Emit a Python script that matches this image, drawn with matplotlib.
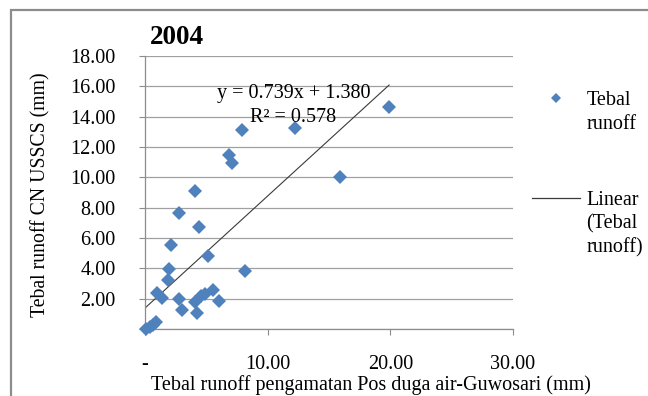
import matplotlib
matplotlib.use("Agg")
import matplotlib.pyplot as plt
from matplotlib.lines import Line2D
from matplotlib.patches import Rectangle
import numpy as np

plt.rcParams['font.family'] = ['Liberation Serif', 'DejaVu Serif']

# ---- data ----
obs_runoff = [19.9, 12.25, 7.88, 6.87, 7.06, 15.86, 4.06, 2.77, 4.41, 2.15, 5.15, 1.95,
              8.16, 1.87, 0.95, 1.4, 2.77, 3.05, 4.1, 4.25, 4.6, 4.9, 5.56, 6.05,
              0.1, 0.37, 0.64, 0.86]
cn_runoff = [14.65, 13.28, 13.15, 11.45, 10.95, 10.02, 9.07, 7.64, 6.72, 5.57, 4.84, 3.96,
             3.81, 3.23, 2.4, 2.05, 1.95, 1.22, 1.75, 1.04, 2.15, 2.3, 2.55, 1.87,
             0.0, 0.12, 0.28, 0.43]
slope = 0.739
intercept = 1.380
r2 = 0.578
x_ticks = [0, 10, 20, 30]
x_ticklabels = ["-", "10.00", "20.00", "30.00"]
y_ticks = [0, 2, 4, 6, 8, 10, 12, 14, 16, 18]
y_ticklabels = ["", "2.00", "4.00", "6.00", "8.00", "10.00", "12.00", "14.00", "16.00", "18.00"]
title = "2004"
xlabel = "Tebal runoff pengamatan Pos duga air-Guwosari (mm)"
ylabel = "Tebal runoff CN USSCS (mm)"
series_label = "Tebal runoff"
trend_label = "Linear (Tebal runoff)"

W, H = 648, 396
fig = plt.figure(figsize=(W / 100, H / 100), dpi=100)
ax = fig.add_axes([145 / W, 1 - 329 / H, (513 - 145) / W, (329 - 56) / H])

fs = 14.5
marker_color = "#4F81BD"
grid_color = "#A0A0A0"
spine_color = "#8C8C8C"

ax.plot(obs_runoff, cn_runoff, linestyle="none", marker="D", ms=6.9,
        mfc=marker_color, mec=marker_color, mew=0, zorder=3, clip_on=False)

xt = np.array([0, max(obs_runoff)])
ax.plot(xt, slope * xt + intercept, color="#3A3A3A", lw=0.8, zorder=2)

ax.set_xlim(0, 30)
ax.set_ylim(0, 18)
ax.set_xticks(x_ticks)
ax.set_xticklabels(x_ticklabels, fontsize=fs)
ax.set_yticks(y_ticks)
ax.set_yticklabels(y_ticklabels, fontsize=fs)
ax.tick_params(axis="x", direction="out", length=4, width=0.8, color=spine_color, pad=15)
ax.tick_params(axis="y", direction="out", length=4, width=0.8, color=spine_color, pad=17)

ax.yaxis.grid(True, color=grid_color, lw=0.9)
ax.set_axisbelow(True)
for s in ["top", "right"]:
    ax.spines[s].set_visible(False)
for s in ["left", "bottom"]:
    ax.spines[s].set_color(spine_color)
    ax.spines[s].set_linewidth(0.9)

ax.set_xlabel(xlabel, fontsize=fs, va="center", ha="center")
ax.xaxis.set_label_coords((371 - 145) / 368, -(385 - 329) / 273)
ax.set_ylabel(ylabel, fontsize=fs - 0.3, va="center", ha="center")
ax.yaxis.set_label_coords((41 - 145) / 368, (329 - 195) / 273)

ax.text((150 - 145) / 368, 1 + (56 - 38) / 273, title, transform=ax.transAxes,
        fontsize=19.5, fontweight="bold", ha="left", va="center")

ax.text(12.1, 15.55, f"y = {slope:.3f}x + {intercept:.3f}", fontsize=fs,
        ha="center", va="center")
ax.text(12.1, 13.97, f"R² = {r2:.3f}", fontsize=fs, ha="center", va="center")

# legend: split multi-line labels into rows so the handle sits on the first line
blank = Line2D([], [], linestyle="none", marker=None)
h_pts = Line2D([], [], linestyle="none", marker="D", ms=5, mfc=marker_color, mec=marker_color, mew=0)
h_line = Line2D([], [], color="#3A3A3A", lw=0.9)
s_words = series_label.split(" ")
t_words = trend_label.split(" ")
t_rows = [t_words[0], t_words[1], t_words[2]]

common = dict(frameon=False, fontsize=fs, handlelength=2.4, handletextpad=0.3,
              labelspacing=0.22, borderpad=0, borderaxespad=0,
              bbox_transform=fig.transFigure, loc="upper left")
leg1 = ax.legend([h_pts, blank], s_words, bbox_to_anchor=(532 / W, 1 - 91 / H), **common)
ax.add_artist(leg1)
leg2 = ax.legend([h_line, blank, blank], t_rows, bbox_to_anchor=(532 / W, 1 - 191 / H), **common)

# outer chart border (top and left visible)
fig.patches.append(Rectangle((11 / W, -0.2), 2, 1.2 - 10 / H, transform=fig.transFigure,
                             fill=False, edgecolor="#8C8C8C", lw=1.6, clip_on=False))

fig.savefig("out.png", dpi=100)
